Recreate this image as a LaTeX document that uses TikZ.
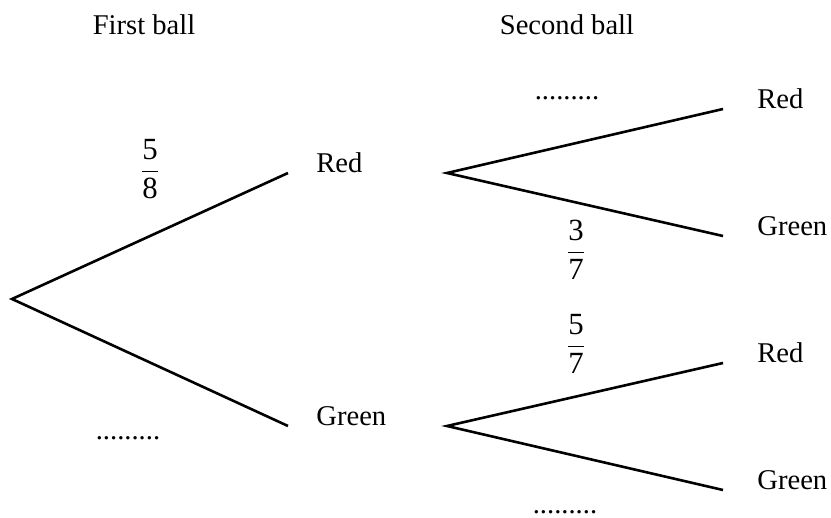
\documentclass[tikz,border=0pt]{standalone}
\usepackage{fontspec}
\setmainfont{Liberation Serif}
\usetikzlibrary{positioning}

\newcommand{\prob}[2]{{\fontsize{15.4}{18}\selectfont$\displaystyle\frac{\mbox{#1}}{\mbox{#2}}$}}

\begin{document}
\begin{tikzpicture}[
    x=0.5pt, y=-0.5pt,
    every node/.style={font=\fontsize{14.3}{17}\selectfont, inner sep=0pt},
    heading/.style={anchor=base},
    blank/.style={anchor=base},
    branch/.style={black, line width=1.3pt, line join=miter}
  ]
  \useasboundingbox (0,0) rectangle (831,518);

  % column headings
  \node (first)  [heading] at (144,35) {First ball};
  \node (second) [heading] at (567,35) {Second ball};

  % branch points and tips
  \coordinate (root)   at (12,299);
  \coordinate (r-tip)  at (288,173);
  \coordinate (g-tip)  at (288,426);
  \coordinate (r-fork) at (447,173);
  \coordinate (g-fork) at (447,426);
  \coordinate (rr-tip) at (723,109);
  \coordinate (rg-tip) at (723,236);
  \coordinate (gr-tip) at (723,363);
  \coordinate (gg-tip) at (723,490);

  % outcomes
  \node (r)  [base right=14pt of r-tip]  {Red};
  \node (g)  [base right=14pt of g-tip]  {Green};
  \node (rr) [base right=17pt of rr-tip] {Red};
  \node (rg) [base right=17pt of rg-tip] {Green};
  \node (gr) [base right=17pt of gr-tip] {Red};
  \node (gg) [base right=17pt of gg-tip] {Green};

  % probabilities
  \node (p-r)  at (150,169) {\prob{5}{8}};
  \node (p-g)  [blank] at (128,440) {.........};
  \node (p-rr) [blank] at (567,100) {.........};
  \node (p-rg) at (576,250) {\prob{3}{7}};
  \node (p-gr) at (576,344) {\prob{5}{7}};
  \node (p-gg) [blank] at (565,514) {.........};

  \draw[branch] (r-tip)  -- (root)   -- (g-tip);
  \draw[branch] (rr-tip) -- (r-fork) -- (rg-tip);
  \draw[branch] (gr-tip) -- (g-fork) -- (gg-tip);

\end{tikzpicture}
\end{document}
